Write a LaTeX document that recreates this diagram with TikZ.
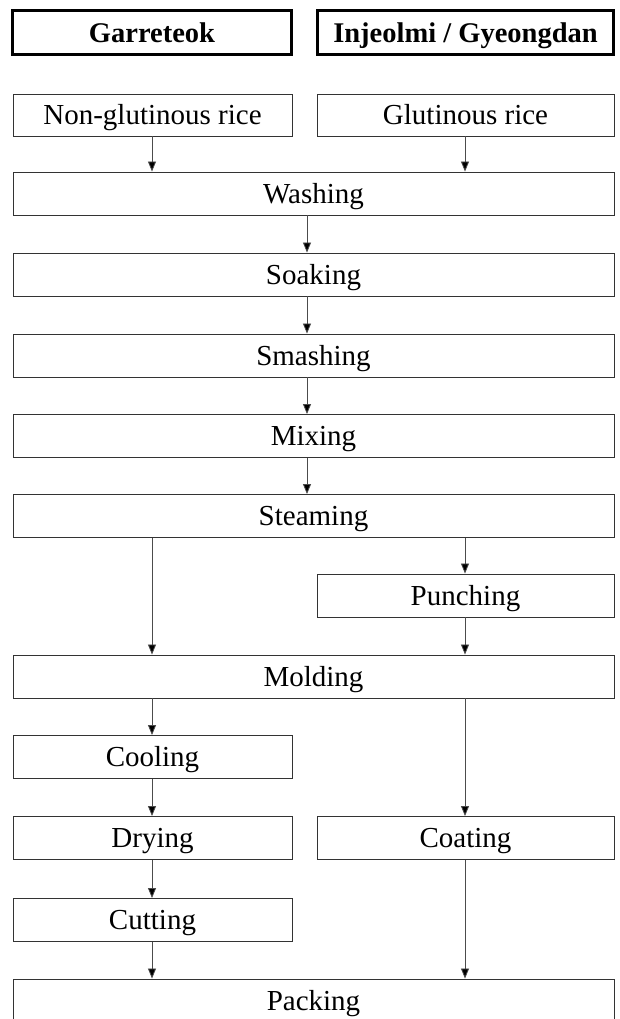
\documentclass[tikz,border=0pt]{standalone}
\usepackage{fontspec}
\setmainfont{Liberation Serif}
\usetikzlibrary{arrows.meta}
\begin{document}
\begin{tikzpicture}[x=1pt,y=-1pt,
  box/.style={draw=black!80,line width=0.9pt,inner sep=0pt,minimum height=43pt,text height=22pt,text depth=3pt,font=\fontsize{29}{32}\selectfont,fill=white},
  hdr/.style={draw=black,line width=2.2pt,inner sep=0pt,minimum height=44pt,text height=22pt,text depth=2pt,font=\fontsize{28.5}{32}\selectfont\bfseries},
  arr/.style={draw=black!70,line width=0.8pt,-{Triangle[length=10pt,width=8pt,fill=black]}}]
\useasboundingbox (0,0) rectangle (619,1019);
\coordinate (xl) at (152,0);
\coordinate (xr) at (465,0);
\coordinate (xc) at (307,0);
\node[hdr,minimum width=279pt] (h1) at (152,32.5) {Garreteok};
\node[hdr,minimum width=296pt] (h2) at (465.5,32.5) {Injeolmi / Gyeongdan};
\node[box,minimum width=279pt,minimum height=42pt] (ng) at (152.5,115) {Non-glutinous rice};
\node[box,minimum width=297pt,minimum height=42pt] (gl) at (465.5,115) {Glutinous rice};
\node[box,minimum width=601pt] (wash) at (313.5,193.5) {Washing};
\node[box,minimum width=601pt] (soak) at (313.5,274.5) {Soaking};
\node[box,minimum width=601pt] (smash) at (313.5,355.5) {Smashing};
\node[box,minimum width=601pt] (mix) at (313.5,436) {Mixing};
\node[box,minimum width=601pt] (steam) at (313.5,516) {Steaming};
\node[box,minimum width=297pt] (punch) at (465.5,595.5) {Punching};
\node[box,minimum width=601pt] (mold) at (313.5,676.5) {Molding};
\node[box,minimum width=279pt] (cool) at (152.5,757) {Cooling};
\node[box,minimum width=279pt] (dry) at (152.5,838) {Drying};
\node[box,minimum width=297pt] (coat) at (465.5,838) {Coating};
\node[box,minimum width=279pt] (cut) at (152.5,920) {Cutting};
\node[box,minimum width=601pt] (pack) at (313.5,1000.5) {Packing};
\draw[arr] (ng.south -| xl) -- (wash.north -| xl);
\draw[arr] (gl.south -| xr) -- (wash.north -| xr);
\draw[arr] (wash.south -| xc) -- (soak.north -| xc);
\draw[arr] (soak.south -| xc) -- (smash.north -| xc);
\draw[arr] (smash.south -| xc) -- (mix.north -| xc);
\draw[arr] (mix.south -| xc) -- (steam.north -| xc);
\draw[arr] (steam.south -| xl) -- (mold.north -| xl);
\draw[arr] (steam.south -| xr) -- (punch.north -| xr);
\draw[arr] (punch.south -| xr) -- (mold.north -| xr);
\draw[arr] (mold.south -| xl) -- (cool.north -| xl);
\draw[arr] (mold.south -| xr) -- (coat.north -| xr);
\draw[arr] (cool.south -| xl) -- (dry.north -| xl);
\draw[arr] (dry.south -| xl) -- (cut.north -| xl);
\draw[arr] (cut.south -| xl) -- (pack.north -| xl);
\draw[arr] (coat.south -| xr) -- (pack.north -| xr);
\end{tikzpicture}
\end{document}
